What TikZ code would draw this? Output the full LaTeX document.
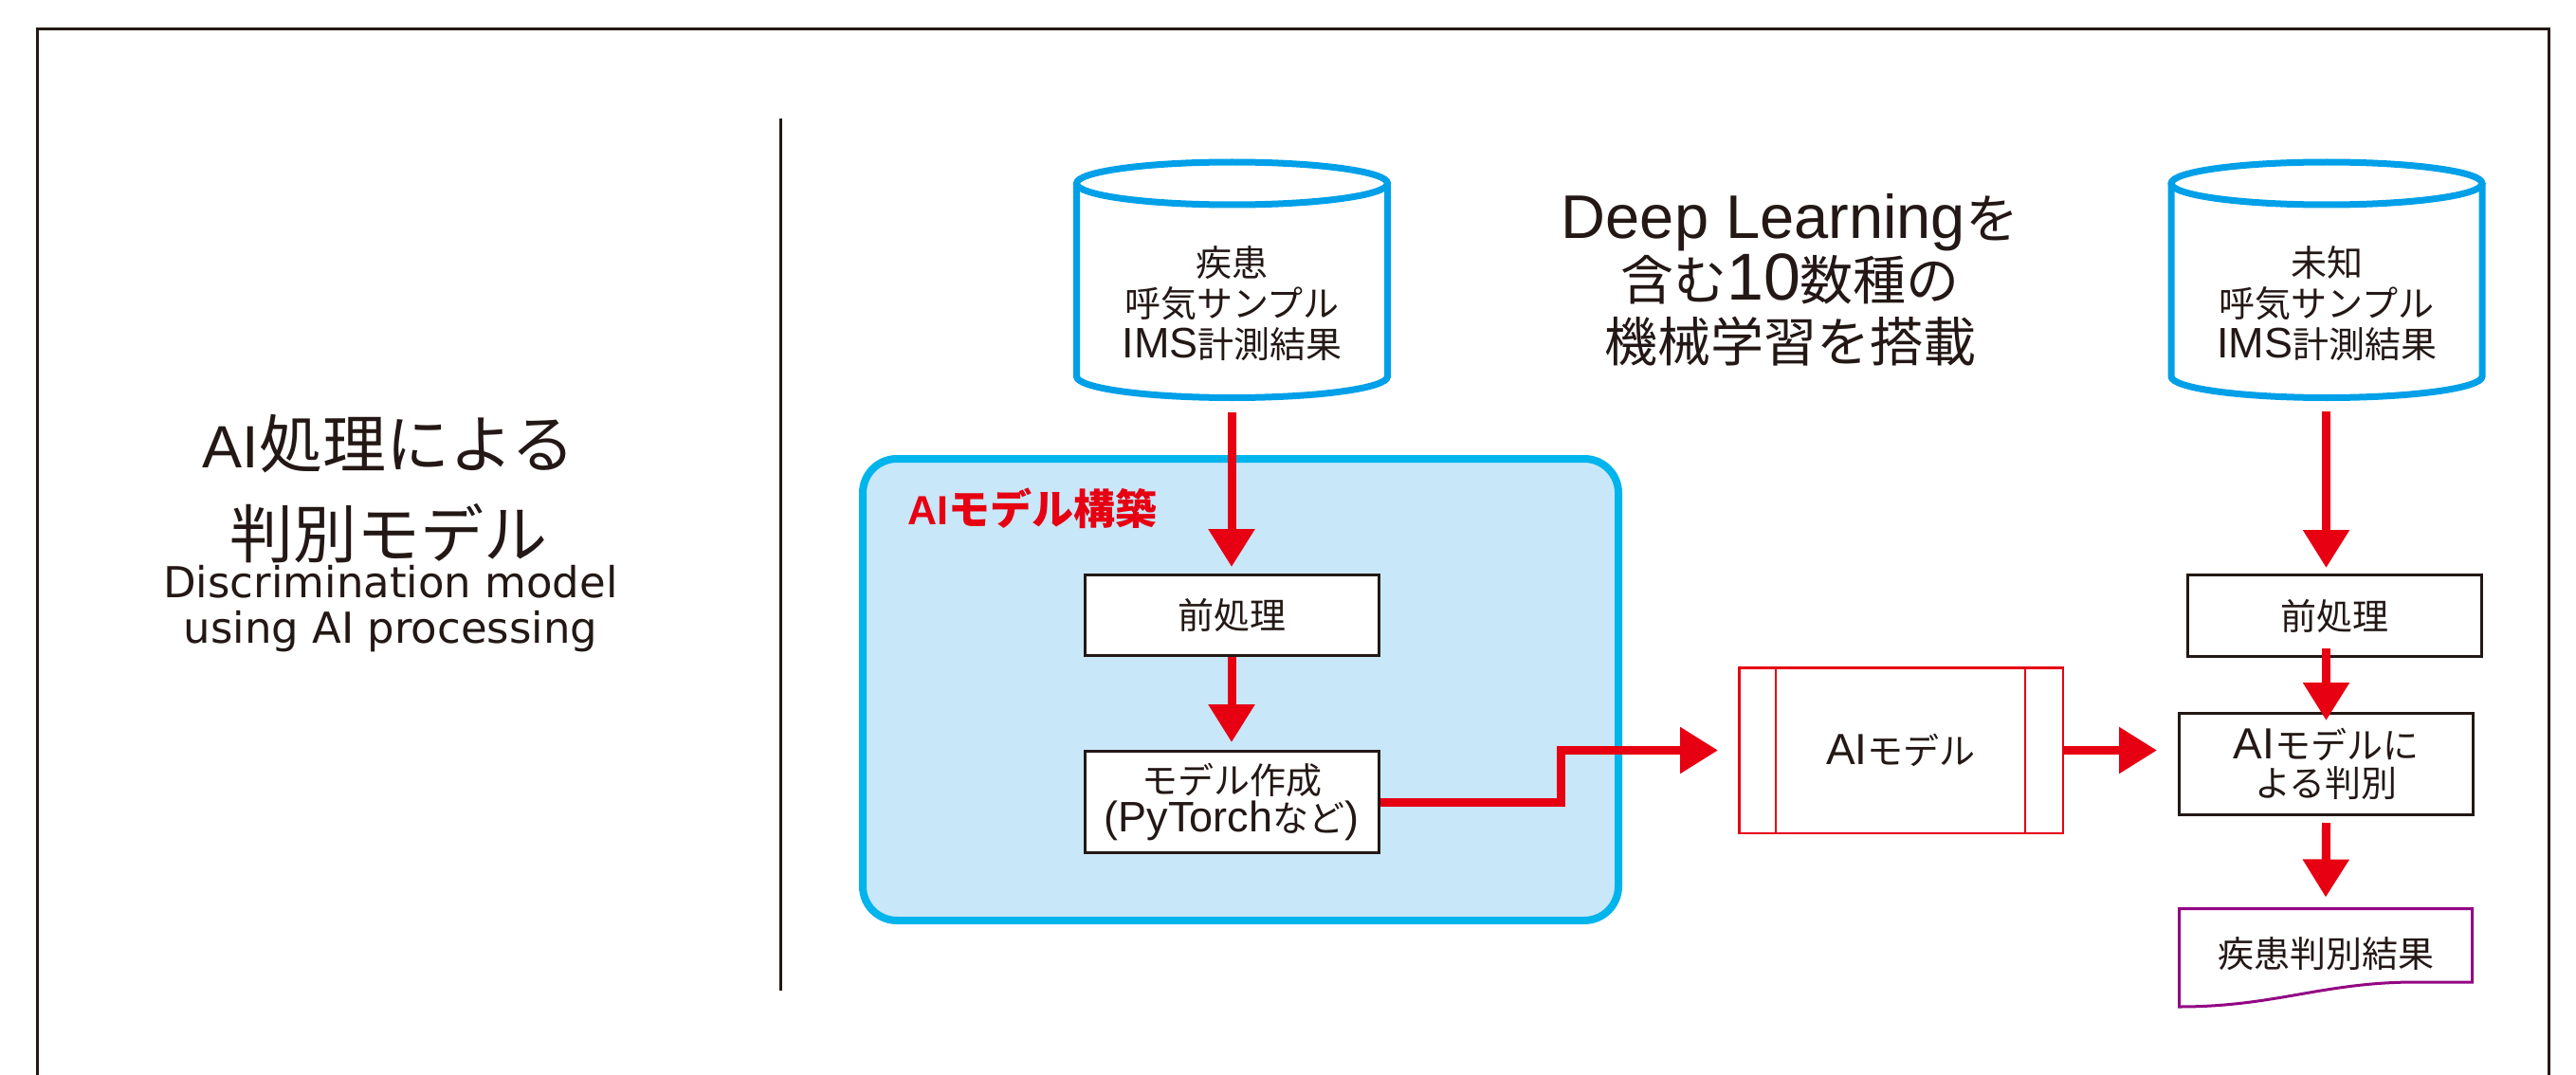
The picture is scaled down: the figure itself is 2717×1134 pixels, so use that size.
\documentclass[tikz,border=0pt]{standalone}
\usepackage{fontspec}
\setmainfont{Noto Sans CJK JP}
\newfontfamily\latf{DejaVu Sans}
\newfontfamily\inlf{Liberation Sans}
\usetikzlibrary{arrows.meta,calc}
\definecolor{ink}{HTML}{231815}
\definecolor{arrred}{HTML}{E60012}
\definecolor{cylblue}{HTML}{00A0E9}
\definecolor{boxblue}{HTML}{00B4EC}
\definecolor{boxfill}{HTML}{C8E7F8}
\definecolor{docpurple}{HTML}{920783}
\newcommand\fsz[2]{\fontsize{#1}{#2}\selectfont}
\newcommand\lt[2]{{\inlf\fontsize{#1}{#1}\selectfont #2}}
\begin{document}
\begin{tikzpicture}[x=1pt,y=-1pt,
  arr/.style={draw=arrred, line width=9pt, -{Triangle[length=40pt,width=47pt]}},
  fbox/.style={draw=ink, line width=3pt, fill=white, inner sep=0pt, text=ink, font=\fsz{38}{43}, align=center, minimum width=310pt},
  cylpath/.style={draw=cylblue, line width=7pt},
  lbl/.style={text=ink, inner sep=0pt, align=center},
  framepath/.style={draw=ink, line width=3pt}]
\useasboundingbox (0,0) rectangle (2717,1134);
% frame and divider
\draw[framepath] (39,1140) -- (39,31) -- (2688,31) -- (2688,1140);
\draw[framepath] (823,125) -- (823,1045);
% left title
\node[lbl, font=\fsz{67}{70}] (title1) at (410,468) {\lt{63}{AI}処理による};
\node[lbl, font=\fsz{67}{70}] (title2) at (410,563) {判別モデル};
\node[lbl, font=\latf\fsz{45}{48}] (titleen) at (412,642) {Discrimination model\\using AI processing};
% blue build box
\node[draw=boxblue, fill=boxfill, line width=8pt, rounded corners=36pt, minimum width=797pt, minimum height=487pt, inner sep=0pt] (build) at (1308.5,727.5) {};
\node[anchor=west, text=arrred, inner sep=0pt, font=\bfseries\fsz{44}{50}] (buildlbl) at (957,536) {\lt{43}{AI}モデル構築};
% cylinders
\draw[cylpath, fill=white] (1135.5,193.5) -- (1135.5,397) arc[start angle=180, end angle=0, x radius=164, y radius=22.5] -- (1463.5,193.5);
\draw[cylpath] (1299.5,193.5) ellipse [x radius=164, y radius=22.5];
\draw[cylpath, fill=white] (2290,193.5) -- (2290,397) arc[start angle=180, end angle=0, x radius=164, y radius=22.5] -- (2618,193.5);
\draw[cylpath] (2454,193.5) ellipse [x radius=164, y radius=22.5];
\node[lbl, font=\fsz{38}{43}] (cyl1) at (1299.5,320) {疾患\\呼気サンプル\\\lt{45}{IMS}計測結果};
\node[lbl, font=\fsz{38}{43}] (cyl2) at (2454,320) {未知\\呼気サンプル\\\lt{45}{IMS}計測結果};
% middle text
\node[lbl, font=\fsz{56}{65}] (deep) at (1888,295) {\lt{65}{Deep Learning}を\\含む\lt{70}{10}数種の\\機械学習を搭載};
% left column
\node[fbox, minimum height=85pt] (pre1) at (1299,649) {前処理};
\node[fbox, minimum height=107pt, font=\fsz{38}{40}] (model1) at (1299,846) {モデル作成\\\lt{45}{(PyTorch}など\lt{45}{)}};
% AI model
\node[draw=arrred, line width=2.5pt, minimum width=341.5pt, minimum height=174.5pt, inner sep=0pt, text=ink, font=\fsz{38}{43}] (aimodel) at (2005,791.5) {\lt{46}{AI}モデル};
\draw[arrred, line width=2.5pt] ([xshift=40pt]aimodel.north west) -- ([xshift=40pt]aimodel.south west);
\draw[arrred, line width=2.5pt] ([xshift=-41pt]aimodel.north east) -- ([xshift=-41pt]aimodel.south east);
% right column
\node[fbox, minimum height=86pt] (pre2) at (2462.5,649.5) {前処理};
\node[fbox, minimum height=107pt, font=\fsz{38}{40}] (judge) at (2453.5,806) {\lt{46}{AI}モデルに\\よる判別};
\node[lbl, font=\fsz{38}{43}, anchor=north, minimum width=309pt, minimum height=95pt] (result) at (2453,958.5) {疾患判別結果};
\draw[docpurple, line width=3pt] (2298.5,1062) -- (2298.5,958.5) -- (2607.5,958.5) -- (2607.5,1036) -- (2548,1036) .. controls (2450,1036) and (2400,1062) .. (2298.5,1062) -- cycle;
% connectors
\coordinate (c1out) at (1299,435);
\coordinate (c2out) at (2453.5,434);
\draw[arr, shorten >=7pt] (c1out) -- (pre1.north);
\draw[arr, shorten >=8pt] (pre1.south) -- (model1.north);
\draw[arr, shorten >=21pt] (model1.east) -- ++(191,0) |- (aimodel.west);
\draw[arr, shorten >=22pt] (aimodel.east) -- (aimodel.east -| judge.west);
\draw[arr, shorten >=6pt] (c2out) -- (c2out |- pre2.north);
\draw[arr] ([yshift=10pt]pre2.south -| judge.north) -- ([yshift=-9pt]judge.north);
\draw[arr] ([yshift=-7pt]judge.south) -- ([yshift=12pt]result.north);
\end{tikzpicture}
\end{document}
